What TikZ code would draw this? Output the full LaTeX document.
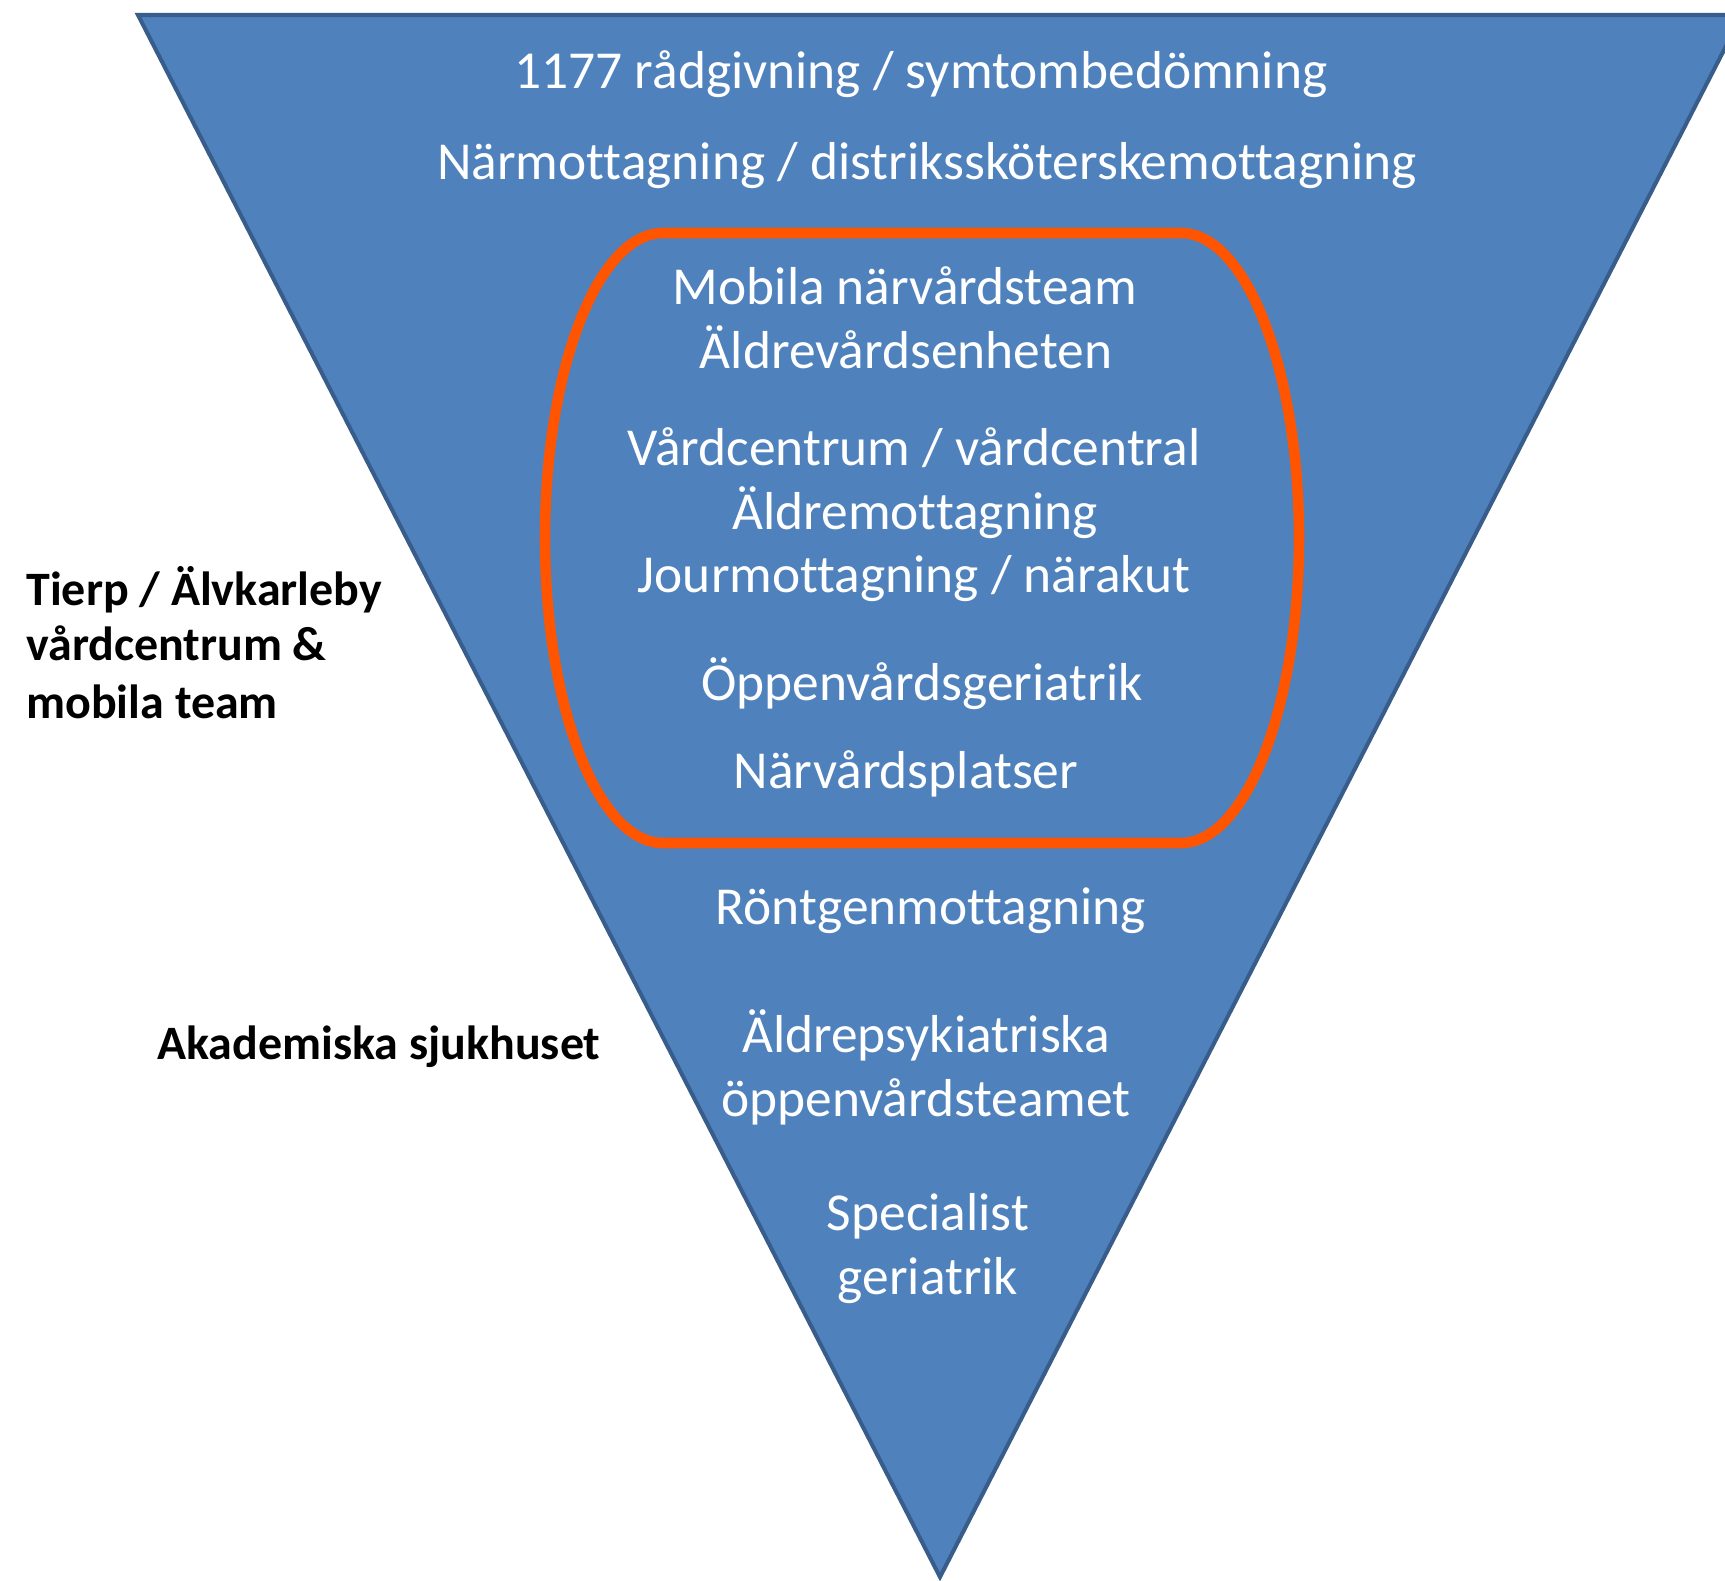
\documentclass[tikz,border=0pt]{standalone}
\usepackage{fontspec}
\setmainfont[Ligatures={NoCommon}]{Carlito}
\definecolor{funnelfill}{HTML}{4F81BD}
\definecolor{funneledge}{HTML}{385D8A}
\definecolor{ringorange}{HTML}{FF5500}
\begin{document}
\begin{tikzpicture}[x=0.02cm,y=-0.02cm,
  wtext/.style={text=white, anchor=base, font=\fontsize{30.4}{37}\selectfont, inner sep=0pt},
  btext/.style={text=black, anchor=base west, font=\fontsize{27.3}{33}\selectfont\bfseries, inner sep=0pt}]
\useasboundingbox (0,0) rectangle (1725,1580);
\begin{scope}
\clip (0,0) rectangle (1725,1580);
\draw[fill=funnelfill, draw=funneledge, line width=2.3pt, line join=miter]
  (138,15) -- (1742,15) -- (940,1577) -- cycle;
\end{scope}
\draw[ringorange, line width=6pt]
  (663,233) -- (1181,233) arc[start angle=-90, end angle=90, x radius=118, y radius=305]
  -- (663,843) arc[start angle=90, end angle=270, x radius=118, y radius=305] -- cycle;

\node[wtext] (t1177) at (921,88) {1177 rådgivning / symtombedömning};
\node[wtext] (tnar) at (927,179) {Närmottagning / distriksskötersk\-emottagning};
\node[wtext] (tmob) at (905,304) {Mobila närvårdsteam};
\node[wtext] (taldv) at (906,368) {Äldrevårdsenheten};
\node[wtext] (tvc) at (914,465) {Vårdcentrum / vårdcentral};
\node[wtext] (taldm) at (915,529) {Äldremottagning};
\node[wtext] (tjour) at (914,592) {Jourmottagning / närakut};
\node[wtext] (toppg) at (922,700) {Öppenvårdsgeriatrik};
\node[wtext] (tnvp) at (906,788) {Närvårdsplatser};
\node[wtext] (tront) at (931,924) {Röntgenmottagning};
\node[wtext] (tpsy1) at (926,1052) {Äldrepsykiatriska};
\node[wtext] (tpsy2) at (926,1116) {öppenvårdsteamet};
\node[wtext] (tspec1) at (928,1230) {Specialist};
\node[wtext] (tspec2) at (928,1294) {geriatrik};

\node[btext] (ltier1) at (26,605) {Tierp / Älvkarleby};
\node[btext] (ltier2) at (26,660) {vårdcentrum \&};
\node[btext] (ltier3) at (26,718) {mobila team};
\node[btext] (lakad) at (157,1059) {Akademiska sjukhuset};
\end{tikzpicture}
\end{document}
